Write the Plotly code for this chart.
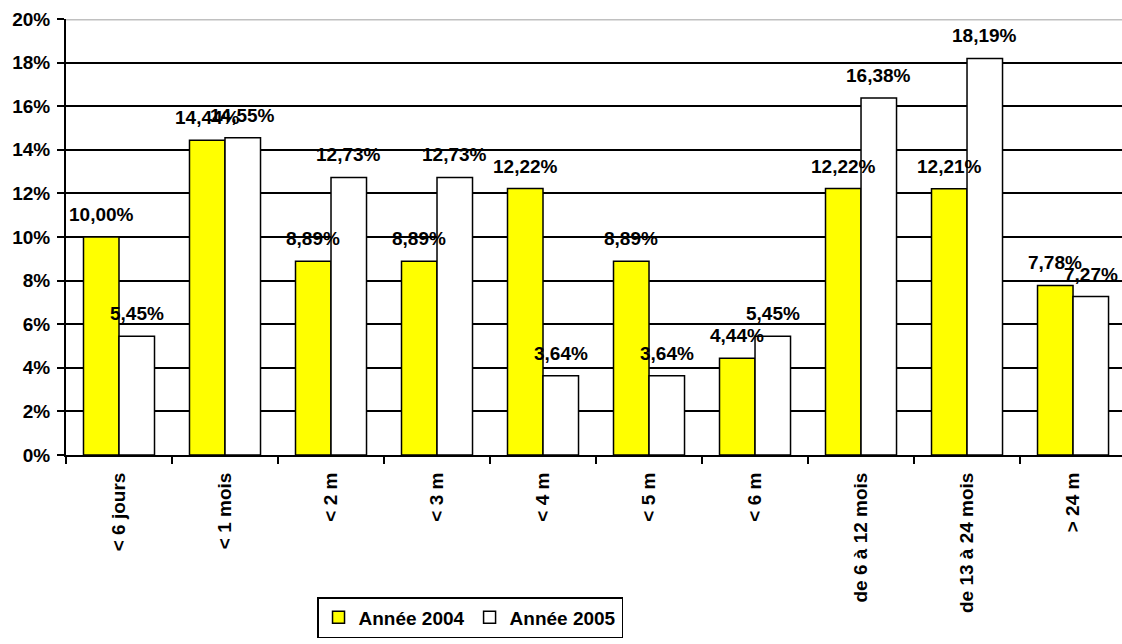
import plotly.graph_objects as go

categories = ["< 6 jours", "< 1 mois", "< 2 m", "< 3 m", "< 4 m", "< 5 m", "< 6 m",
              "de 6 à 12 mois", "de 13 à 24 mois", "> 24 m"]
annee_2004 = [10.00, 14.44, 8.89, 8.89, 12.22, 8.89, 4.44, 12.22, 12.21, 7.78]
annee_2005 = [5.45, 14.55, 12.73, 12.73, 3.64, 3.64, 5.45, 16.38, 18.19, 7.27]
y_ticks = [0, 2, 4, 6, 8, 10, 12, 14, 16, 18, 20]

FONT = "Liberation Sans, Arial, sans-serif"
fs = 19

def fmt(v):
    return f"{v:.2f}%".replace(".", ",")

fig = go.Figure()
fig.add_trace(go.Bar(name="Année 2004", x=categories, y=annee_2004,
                     marker=dict(color="#FFFF00", line=dict(color="black", width=1.5))))
fig.add_trace(go.Bar(name="Année 2005", x=categories, y=annee_2005,
                     marker=dict(color="white", line=dict(color="black", width=1.5))))

half = 17.75
for c, v in zip(categories, annee_2004):
    fig.add_annotation(x=c, y=v, xref="x", yref="y", text=fmt(v), showarrow=False,
                       xshift=-half, yshift=10, yanchor="bottom",
                       font=dict(family=FONT, size=fs, color="black", weight="bold"))
for c, v in zip(categories, annee_2005):
    fig.add_annotation(x=c, y=v, xref="x", yref="y", text=fmt(v), showarrow=False,
                       xshift=half, yshift=10, yanchor="bottom",
                       font=dict(family=FONT, size=fs, color="black", weight="bold"))

# top border of plot area (grey)
fig.add_shape(type="line", xref="paper", yref="y", x0=0, x1=1, y0=20, y1=20,
              line=dict(color="#C0C0C0", width=3), layer="above")

fig.update_layout(
    width=1122, height=644,
    margin=dict(l=66, r=0, t=19, b=189),
    paper_bgcolor="white", plot_bgcolor="white",
    barmode="group", bargap=0.33, bargroupgap=0,
    font=dict(family=FONT, size=fs, color="black", weight="bold"),
    showlegend=True,
    legend=dict(orientation="h", x=0.3826, xanchor="center", y=-0.3257, yanchor="top",
                bordercolor="black", borderwidth=1.5, bgcolor="white",
                font=dict(family=FONT, size=fs, color="black", weight="bold"),
                traceorder="normal"),
)
fig.update_xaxes(
    type="category", range=[-0.5, 9.462],
    showline=True, linecolor="black", linewidth=2,
    ticks="outside", ticklen=7, tickwidth=1.5, tickcolor="black",
    tickson="boundaries", tickangle=-90, ticklabelstandoff=8,
    tickfont=dict(family=FONT, size=fs, color="black", weight="bold"),
    showgrid=False,
)
fig.update_yaxes(
    range=[0, 20], tickvals=y_ticks, ticktext=[f"{t}%" for t in y_ticks],
    showline=True, linecolor="black", linewidth=2,
    ticks="outside", ticklen=7, tickwidth=1.5, tickcolor="black",
    ticklabelstandoff=3,
    showgrid=True, gridcolor="black", gridwidth=1.6,
    tickfont=dict(family=FONT, size=fs, color="black", weight="bold"),
    zeroline=False,
)

fig.write_html("out.html")
